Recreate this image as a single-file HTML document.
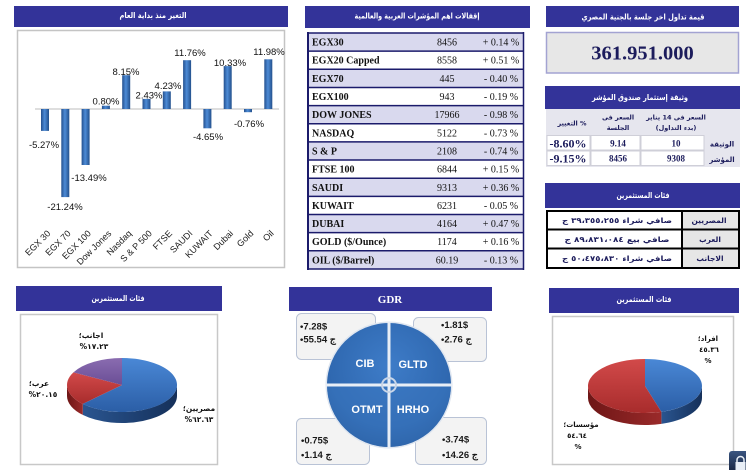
<!DOCTYPE html>
<html><head><meta charset="utf-8">
<style>
html,body{margin:0;padding:0;background:#fff;}
svg{display:block;}
.ar{font-family:"DejaVu Sans",sans-serif;font-weight:bold;}
.hd{fill:#fff;font-size:8px;}
.ls{font-family:"Liberation Sans",sans-serif;}
.sf{font-family:"Liberation Serif",serif;}
</style></head>
<body>
<svg width="746" height="470" viewBox="0 0 746 470" xmlns="http://www.w3.org/2000/svg">
<defs>
<linearGradient id="bar" x1="0" y1="0" x2="1" y2="0">
<stop offset="0" stop-color="#24508e"/><stop offset="0.45" stop-color="#4d8bd6"/><stop offset="1" stop-color="#23508c"/>
</linearGradient>
<linearGradient id="pblue" x1="0" y1="0" x2="0" y2="1">
<stop offset="0" stop-color="#4a88d6"/><stop offset="1" stop-color="#2b5ea6"/>
</linearGradient>
<linearGradient id="pbside" x1="0" y1="0" x2="1" y2="0">
<stop offset="0" stop-color="#2a5590"/><stop offset="1" stop-color="#15305a"/>
</linearGradient>
<linearGradient id="pred" x1="0" y1="0" x2="0" y2="1">
<stop offset="0" stop-color="#d24a4a"/><stop offset="1" stop-color="#a82c2c"/>
</linearGradient>
<linearGradient id="prside" x1="0" y1="0" x2="1" y2="0">
<stop offset="0" stop-color="#6e1616"/><stop offset="1" stop-color="#9a2a2a"/>
</linearGradient>
<linearGradient id="ppur" x1="0" y1="0" x2="0" y2="1">
<stop offset="0" stop-color="#8a6cb0"/><stop offset="1" stop-color="#6a4e96"/>
</linearGradient>
<radialGradient id="gdr" cx="0.5" cy="0.35" r="0.7">
<stop offset="0" stop-color="#3e7cc8"/><stop offset="0.7" stop-color="#2f68b0"/><stop offset="1" stop-color="#1f4f8e"/>
</radialGradient>
<linearGradient id="ico" x1="0" y1="0" x2="0" y2="1">
<stop offset="0" stop-color="#3a5580"/><stop offset="1" stop-color="#16233e"/>
</linearGradient>
</defs>

<!-- ===== Bar chart panel ===== -->
<rect x="14" y="6" width="274" height="21" fill="#333399"/>
<text class="ar hd" x="153" y="18" text-anchor="middle" textLength="67" lengthAdjust="spacingAndGlyphs">التغير منذ بداية العام</text>
<rect x="17.5" y="30.5" width="267" height="237" fill="#fff" stroke="#c4c4c4" stroke-width="1.5"/>
<line x1="35" y1="109" x2="279" y2="109" stroke="#bdbdbd" stroke-width="1"/>
<g fill="url(#bar)">
<rect x="41" y="109" width="8" height="21.9"/>
<rect x="61.3" y="109" width="8" height="88.1"/>
<rect x="81.6" y="109" width="8" height="56"/>
<rect x="101.9" y="105.7" width="8" height="3.3"/>
<rect x="122.2" y="75.2" width="8" height="33.8"/>
<rect x="142.5" y="98.9" width="8" height="10.1"/>
<rect x="162.8" y="91.4" width="8" height="17.6"/>
<rect x="183.1" y="60.2" width="8" height="48.8"/>
<rect x="203.4" y="109" width="8" height="19.3"/>
<rect x="223.7" y="66.1" width="8" height="42.9"/>
<rect x="244" y="109" width="8" height="3.2"/>
<rect x="264.3" y="59.3" width="8" height="49.7"/>
</g>
<g class="ls" font-size="9.5" fill="#111" text-anchor="middle">
<text x="44" y="148">-5.27%</text>
<text x="65" y="210">-21.24%</text>
<text x="89" y="181">-13.49%</text>
<text x="106" y="104.5">0.80%</text>
<text x="126" y="75">8.15%</text>
<text x="149" y="98.5">2.43%</text>
<text x="168" y="89">4.23%</text>
<text x="190" y="56">11.76%</text>
<text x="208" y="140">-4.65%</text>
<text x="230" y="66">10.33%</text>
<text x="249" y="127">-0.76%</text>
<text x="269" y="55">11.98%</text>
</g>
<g class="ls" font-size="9" fill="#222" text-anchor="end">
<text transform="translate(51,234) rotate(-45)">EGX 30</text>
<text transform="translate(71.3,234) rotate(-45)">EGX 70</text>
<text transform="translate(91.6,234) rotate(-45)">EGX 100</text>
<text transform="translate(111.9,234) rotate(-45)">Dow Jones</text>
<text transform="translate(132.2,234) rotate(-45)">Nasdaq</text>
<text transform="translate(152.5,234) rotate(-45)">S &amp; P 500</text>
<text transform="translate(172.8,234) rotate(-45)">FTSE</text>
<text transform="translate(193.1,234) rotate(-45)">SAUDI</text>
<text transform="translate(213.4,234) rotate(-45)">KUWAIT</text>
<text transform="translate(233.7,234) rotate(-45)">Dubai</text>
<text transform="translate(254,234) rotate(-45)">Gold</text>
<text transform="translate(274.3,234) rotate(-45)">Oil</text>
</g>

<!-- ===== Indices table ===== -->
<rect x="305" y="6" width="225" height="22" fill="#333399"/>
<text class="ar hd" x="417" y="18.5" text-anchor="middle" textLength="125" lengthAdjust="spacingAndGlyphs">إقفالات اهم المؤشرات العربية والعالمية</text>
<g fill="#d9d9ee">
<rect x="307" y="33" width="217" height="18.15"/>
<rect x="307" y="69.3" width="217" height="18.15"/>
<rect x="307" y="105.6" width="217" height="18.15"/>
<rect x="307" y="141.9" width="217" height="18.15"/>
<rect x="307" y="178.2" width="217" height="18.15"/>
<rect x="307" y="214.5" width="217" height="18.15"/>
<rect x="307" y="250.8" width="217" height="18.15"/>
</g>
<g stroke="#1b1b6b" stroke-width="1.5">
<line x1="307" y1="33" x2="524" y2="33"/>
<line x1="307" y1="51.15" x2="524" y2="51.15"/>
<line x1="307" y1="69.3" x2="524" y2="69.3"/>
<line x1="307" y1="87.45" x2="524" y2="87.45"/>
<line x1="307" y1="105.6" x2="524" y2="105.6"/>
<line x1="307" y1="123.75" x2="524" y2="123.75"/>
<line x1="307" y1="141.9" x2="524" y2="141.9"/>
<line x1="307" y1="160.05" x2="524" y2="160.05"/>
<line x1="307" y1="178.2" x2="524" y2="178.2"/>
<line x1="307" y1="196.35" x2="524" y2="196.35"/>
<line x1="307" y1="214.5" x2="524" y2="214.5"/>
<line x1="307" y1="232.65" x2="524" y2="232.65"/>
<line x1="307" y1="250.8" x2="524" y2="250.8"/>
<line x1="307" y1="268.95" x2="524" y2="268.95"/>
</g>
<line x1="308" y1="32" x2="308" y2="270" stroke="#1b1b6b" stroke-width="2"/>
<line x1="523.5" y1="32" x2="523.5" y2="270" stroke="#1b1b6b" stroke-width="1.5"/>
<g class="sf" font-size="10" fill="#111">
<g font-weight="bold">
<text x="312" y="45.6">EGX30</text>
<text x="312" y="63.7">EGX20 Capped</text>
<text x="312" y="81.9">EGX70</text>
<text x="312" y="100">EGX100</text>
<text x="312" y="118.2">DOW JONES</text>
<text x="312" y="136.3">NASDAQ</text>
<text x="312" y="154.5">S &amp; P</text>
<text x="312" y="172.6">FTSE 100</text>
<text x="312" y="190.8">SAUDI</text>
<text x="312" y="208.9">KUWAIT</text>
<text x="312" y="227.1">DUBAI</text>
<text x="312" y="245.2">GOLD ($/Ounce)</text>
<text x="312" y="263.4">OIL ($/Barrel)</text>
</g>
<g text-anchor="middle">
<text x="447" y="45.6">8456</text>
<text x="447" y="63.7">8558</text>
<text x="447" y="81.9">445</text>
<text x="447" y="100">943</text>
<text x="447" y="118.2">17966</text>
<text x="447" y="136.3">5122</text>
<text x="447" y="154.5">2108</text>
<text x="447" y="172.6">6844</text>
<text x="447" y="190.8">9313</text>
<text x="447" y="208.9">6231</text>
<text x="447" y="227.1">4164</text>
<text x="447" y="245.2">1174</text>
<text x="447" y="263.4">60.19</text>
<text x="501" y="45.6">+ 0.14 %</text>
<text x="501" y="63.7">+ 0.51 %</text>
<text x="501" y="81.9">- 0.40 %</text>
<text x="501" y="100">- 0.19 %</text>
<text x="501" y="118.2">- 0.98 %</text>
<text x="501" y="136.3">- 0.73 %</text>
<text x="501" y="154.5">- 0.74 %</text>
<text x="501" y="172.6">+ 0.15 %</text>
<text x="501" y="190.8">+ 0.36 %</text>
<text x="501" y="208.9">- 0.05 %</text>
<text x="501" y="227.1">+ 0.47 %</text>
<text x="501" y="245.2">+ 0.16 %</text>
<text x="501" y="263.4">- 0.13 %</text>
</g>
</g>

<!-- ===== Top right panels ===== -->
<rect x="546" y="6" width="193" height="21" fill="#333399"/>
<text class="ar hd" x="643" y="19.5" text-anchor="middle" textLength="123" lengthAdjust="spacingAndGlyphs">قيمة تداول اخر جلسة بالجنية المصري</text>
<rect x="546.5" y="32.5" width="192" height="40.5" fill="#e7e7e7" stroke="#a3a3d2" stroke-width="1.5"/>
<text class="sf" x="642.5" y="59.5" text-anchor="middle" font-size="20.5" font-weight="bold" fill="#1c1c5c">361.951.000</text>

<rect x="545" y="86" width="195" height="23" fill="#333399"/>
<text class="ar hd" x="640" y="100" text-anchor="middle" textLength="96" lengthAdjust="spacingAndGlyphs">وثيقة إستثمار صندوق المؤشر</text>
<rect x="546" y="109" width="194" height="58" fill="#e6e6ee"/>
<g fill="#fff" stroke="#cfcfd8" stroke-width="1">
<rect x="547" y="135.5" width="43" height="14.5"/>
<rect x="591" y="135.5" width="49" height="14.5"/>
<rect x="641" y="135.5" width="63" height="14.5"/>
<rect x="547" y="151" width="43" height="14.5"/>
<rect x="591" y="151" width="49" height="14.5"/>
<rect x="641" y="151" width="63" height="14.5"/>
</g>
<g class="ar" font-size="6.5" fill="#1c1c5c" text-anchor="middle">
<text x="572" y="125.5">التغيير %</text>
<text x="618" y="119.5">السعر فى</text>
<text x="618" y="130">الجلسة</text>
<text x="676" y="119.5">السعر فى 14 يناير</text>
<text x="676" y="130">(بدء التداول)</text>
<text x="722" y="146.5" font-size="7">الوثيقة</text>
<text x="722" y="162" font-size="7">المؤشر</text>
</g>
<g class="sf" font-weight="bold" fill="#1c1c5c" text-anchor="middle">
<text x="568" y="147.5" font-size="12">-8.60%</text>
<text x="568" y="162.5" font-size="12">-9.15%</text>
<text x="618" y="146.5" font-size="9">9.14</text>
<text x="618" y="161.5" font-size="9">8456</text>
<text x="676" y="146.5" font-size="9">10</text>
<text x="676" y="161.5" font-size="9">9308</text>
</g>

<rect x="545" y="183" width="195" height="25" fill="#333399"/>
<text class="ar hd" x="643" y="198" text-anchor="middle" textLength="53" lengthAdjust="spacingAndGlyphs">فئات المستثمرين</text>
<rect x="547" y="211" width="192" height="57" fill="#fff"/>
<rect x="682" y="211" width="57" height="57" fill="#e6e6e6"/>
<g stroke="#000" stroke-width="2" fill="none">
<rect x="547" y="211" width="192" height="57"/>
<line x1="547" y1="229.5" x2="739" y2="229.5"/>
<line x1="547" y1="248.5" x2="739" y2="248.5"/>
<line x1="682" y1="211" x2="682" y2="268"/>
</g>
<g class="ar" font-size="7.5" fill="#1c1c5c" text-anchor="middle">
<text x="709" y="223">المصريين</text>
<text x="710" y="242">العرب</text>
<text x="710" y="261">الاجانب</text>
<text x="617" y="223" textLength="110" lengthAdjust="spacingAndGlyphs">صافي شراء ٣٩،٣٥٥،٢٥٥ ج</text>
<text x="617" y="242" textLength="105" lengthAdjust="spacingAndGlyphs">صافي بيع ٨٩،٨٣١،٠٨٤ ج</text>
<text x="617" y="261" textLength="110" lengthAdjust="spacingAndGlyphs">صافي شراء ٥٠،٤٧٥،٨٣٠ ج</text>
</g>

<!-- ===== Bottom left pie ===== -->
<rect x="16" y="286" width="206" height="25" fill="#333399"/>
<text class="ar hd" x="118" y="301" text-anchor="middle" textLength="53" lengthAdjust="spacingAndGlyphs">فئات المستثمرين</text>
<rect x="20.5" y="314.5" width="197" height="150" fill="#fff" stroke="#c8c8c8" stroke-width="1.5"/>
<path d="M177,385 A55 27 0 0 1 82.77,403.92 L82.77,414.92 A55 27 0 0 0 177,396 Z" fill="url(#pbside)"/>
<path d="M82.77,403.92 A55 27 0 0 1 67,385 L67,396 A55 27 0 0 0 82.77,414.92 Z" fill="url(#prside)"/>
<path d="M122,385 L122,358 A55 27 0 1 1 82.77,403.92 Z" fill="url(#pblue)"/>
<path d="M122,385 L82.77,403.92 A55 27 0 0 1 73.44,372.32 Z" fill="url(#pred)"/>
<path d="M122,385 L73.44,372.32 A55 27 0 0 1 122,358 Z" fill="url(#ppur)"/>
<g class="ar" font-size="7.5" fill="#111" text-anchor="middle">
<text x="91" y="338">اجانب؛</text>
<text x="94" y="349">%١٧.٢٣</text>
<text x="39" y="386">عرب؛</text>
<text x="43" y="397">%٢٠.١٥</text>
<text x="199" y="411">مصريين؛</text>
<text x="199" y="422">%٦٢.٦٣</text>
</g>

<!-- ===== GDR ===== -->
<rect x="289" y="287" width="203" height="24" fill="#333399"/>
<text class="sf" x="390" y="303" text-anchor="middle" font-size="11" font-weight="bold" fill="#fff">GDR</text>
<g fill="#f3f3f3" stroke="#b9c3d6" stroke-width="1">
<rect x="296.5" y="313.5" width="79" height="46" rx="5"/>
<rect x="413.5" y="317.5" width="73" height="44" rx="5"/>
<rect x="296.5" y="418.5" width="73" height="46" rx="5"/>
<rect x="415.5" y="417.5" width="71" height="47" rx="5"/>
</g>
<circle cx="389" cy="385" r="63.5" fill="#dfe6f0"/>
<circle cx="389" cy="385" r="62" fill="url(#gdr)"/>
<path d="M327,385 A62 62 0 0 0 451,385 Z" fill="#3a76c0" opacity="0.55"/>
<line x1="389" y1="322" x2="389" y2="448" stroke="#e8eef6" stroke-width="3"/>
<line x1="326" y1="385" x2="452" y2="385" stroke="#e8eef6" stroke-width="3"/>
<circle cx="389" cy="385" r="7" fill="none" stroke="#c9d6e8" stroke-width="2"/>
<g class="ls" font-size="11" font-weight="bold" fill="#fff" text-anchor="middle">
<text x="365" y="367">CIB</text>
<text x="413" y="368">GLTD</text>
<text x="367" y="413">OTMT</text>
<text x="413" y="413">HRHO</text>
</g>
<g class="ls" font-size="9.5" font-weight="bold" fill="#1a1a1a">
<text x="300" y="329.5">•7.28$</text>
<text x="300" y="342.5">•55.54 ج</text>
<text x="441" y="328">•1.81$</text>
<text x="441" y="342.5">•2.76 ج</text>
<text x="301" y="443.5">•0.75$</text>
<text x="301" y="458">•1.14 ج</text>
<text x="442" y="442.5">•3.74$</text>
<text x="442" y="458">•14.26 ج</text>
</g>

<!-- ===== Bottom right pie ===== -->
<rect x="549" y="288" width="190" height="25" fill="#333399"/>
<text class="ar hd" x="644" y="302" text-anchor="middle" textLength="55" lengthAdjust="spacingAndGlyphs">فئات المستثمرين</text>
<rect x="552.5" y="316.5" width="181" height="148" fill="#fff" stroke="#c8c8c8" stroke-width="1.5"/>
<path d="M702,386 A57 27 0 0 1 661.38,411.86 L661.38,423.86 A57 27 0 0 0 702,398 Z" fill="url(#pbside)"/>
<path d="M661.38,411.86 A57 27 0 0 1 588,386 L588,398 A57 27 0 0 0 661.38,423.86 Z" fill="url(#prside)"/>
<path d="M645,386 L645,359 A57 27 0 0 1 661.38,411.86 Z" fill="url(#pblue)"/>
<path d="M645,386 L661.38,411.86 A57 27 0 1 1 645,359 Z" fill="url(#pred)"/>
<g class="ar" font-size="7" fill="#111" text-anchor="middle">
<text x="708" y="341">افراد؛</text>
<text x="709" y="352">٤٥.٣٦</text>
<text x="708" y="363">%</text>
<text x="581" y="427">مؤسسات؛</text>
<text x="577" y="438">٥٤.٦٤</text>
<text x="578" y="449">%</text>
</g>

<!-- corner icon -->
<rect x="729" y="451" width="20" height="22" rx="3" fill="url(#ico)"/>
<path d="M737,462 v-2 a3.5 3.5 0 0 1 7,0 v2" fill="none" stroke="#e8eef6" stroke-width="1.5"/>
<rect x="735.5" y="462" width="10" height="8" fill="#e8eef6"/>
</svg>
</body></html>
